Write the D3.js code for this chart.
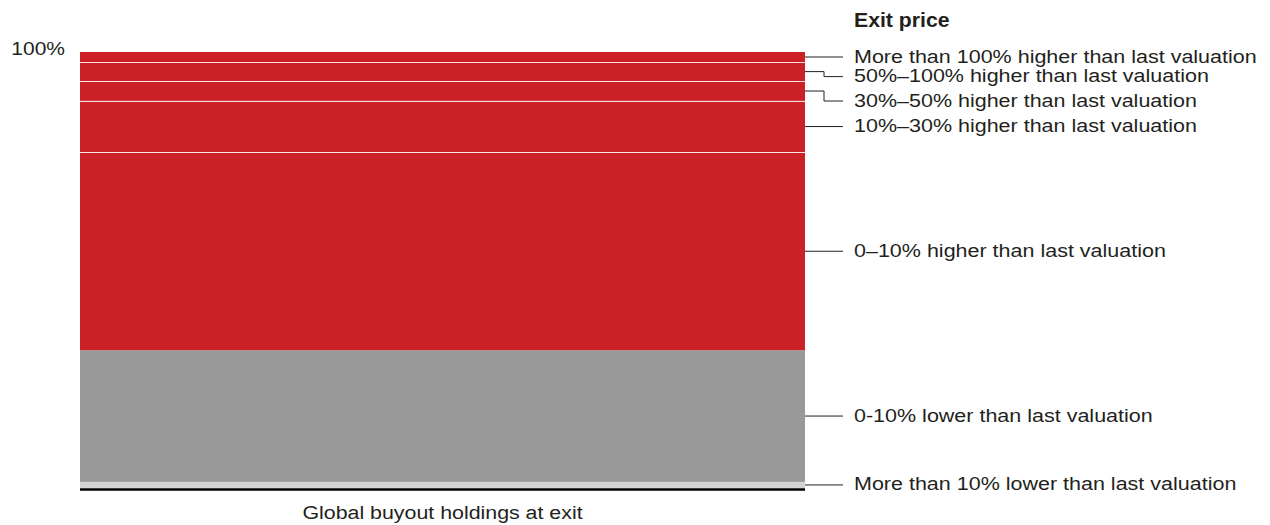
<!DOCTYPE html>
<html>
<head>
<meta charset="utf-8">
<script src="https://cdn.jsdelivr.net/npm/d3@7"></script>
<style>
  body { margin: 0; background: #fff; }
  text { font-family: "Liberation Sans", Arial, sans-serif; fill: #231f20; }
</style>
</head>
<body>
<svg id="chart" width="1270" height="525"></svg>
<script>
// shares of global buyout holdings by exit price vs last valuation (bottom to top)
const segmentNames = [
    "More than 10% lower than last valuation",
    "0-10% lower than last valuation",
    "0–10% higher than last valuation",
    "10%–30% higher than last valuation",
    "30%–50% higher than last valuation",
    "50%–100% higher than last valuation",
    "More than 100% higher than last valuation"
];
const segmentValues = [1.4, 30.2, 45.4, 11.8, 4.5, 4.4, 2.3];
const segmentColours = ["#d1d3d4", "#999999", "#cc2027", "#cc2027", "#cc2027", "#cc2027", "#cc2027"];
// label nudges (px) where labels would collide
const labelShift = [0, 0, 0, 0, 10, 5, 0];
const yTickValues = [100];
const categoryName = "Global buyout holdings at exit";
const legendTitle = "Exit price";

const svg = d3.select("#chart");
const plot = {left: 80, right: 805, top: 52, bottom: 488};

const yScale = d3.scaleLinear()
    .domain([0, 100])
    .range([plot.bottom, plot.top]);

let cum = 0;
const stacked = segmentValues.map((v, i) => {
    const d = {name: segmentNames[i], y0: cum, y1: cum + v, colour: segmentColours[i], shift: labelShift[i]};
    cum += v;
    return d;
});

const g = svg.append("g");

// the source type is a touch wider than Arial, so stretch it a little
function wideText(parent, x, y, size, sx, anchor, str) {
    return parent.append("text")
        .attr("transform", "translate(" + x + "," + y + ") scale(" + sx + ",1)")
        .attr("text-anchor", anchor)
        .style("font-size", size + "px")
        .text(str);
}

g.selectAll("rect.seg")
    .data(stacked)
    .enter()
    .append("rect")
    .attr("class", "seg")
    .attr("x", plot.left)
    .attr("width", plot.right - plot.left)
    .attr("y", d => yScale(d.y1))
    .attr("height", d => yScale(d.y0) - yScale(d.y1))
    .attr("fill", d => d.colour);

// thin white dividers between red segments
g.selectAll("line.divider")
    .data(stacked.filter((d, i) => i >= 2 && i < stacked.length - 1))
    .enter()
    .append("line")
    .attr("x1", plot.left)
    .attr("x2", plot.right)
    .attr("y1", d => Math.round(yScale(d.y1)) + 0.5)
    .attr("y2", d => Math.round(yScale(d.y1)) + 0.5)
    .attr("stroke", "#fff")
    .attr("stroke-opacity", 0.85)
    .attr("stroke-width", 1);

// baseline
g.append("line")
    .attr("x1", plot.left)
    .attr("x2", plot.right)
    .attr("y1", yScale(0) + 1.5)
    .attr("y2", yScale(0) + 1.5)
    .attr("stroke", "#000")
    .attr("stroke-width", 2.5);

// y tick label
yTickValues.forEach(v => {
    wideText(g, 65, yScale(v) + 2.5, 17.5, 1.2, "end", v + "%");
});

// leader lines + labels
const elbowX = 824, endX = 843, textX = 854;
stacked.forEach(d => {
    const yMid = (yScale(d.y0) + yScale(d.y1)) / 2;
    const yLab = yMid + d.shift;
    const pts = d.shift
        ? [[plot.right, yMid], [elbowX, yMid], [elbowX, yLab], [endX, yLab]]
        : [[plot.right, yMid], [endX, yLab]];
    g.append("path")
        .attr("d", d3.line()(pts))
        .attr("fill", "none")
        .attr("stroke", "#231f20")
        .attr("stroke-width", 1);
    wideText(g, textX, yLab + 5.5, 18.7, 1.15, "start", d.name);
});

wideText(g, textX, 27.3, 19.5, 1.09, "start", legendTitle)
    .style("font-weight", "bold");

wideText(g, (plot.left + plot.right) / 2, 519.3, 17.8, 1.2, "middle", categoryName);
</script>
</body>
</html>
